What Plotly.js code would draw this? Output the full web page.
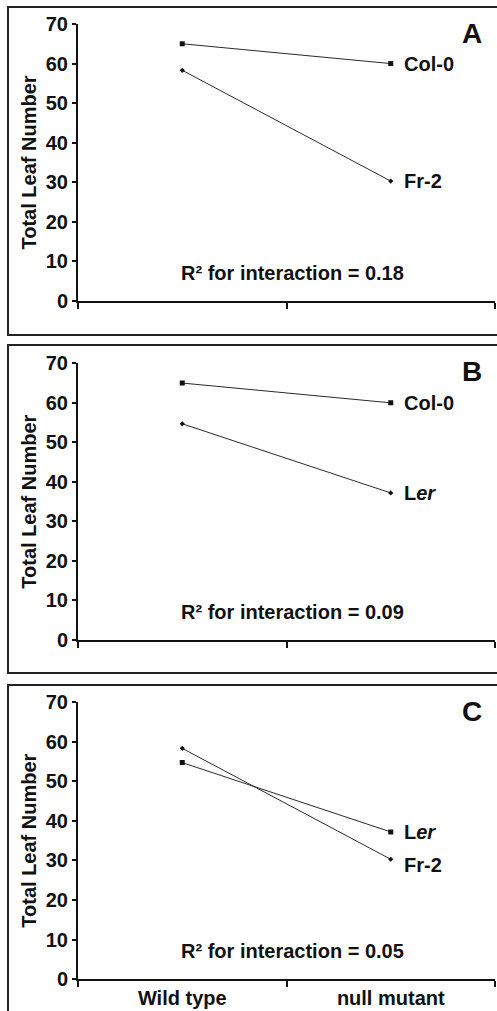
<!DOCTYPE html>
<html>
<head>
<meta charset="utf-8">
<script src="https://cdn.plot.ly/plotly-3.0.1.min.js"></script>
<style>html,body{margin:0;padding:0;background:#fff;}#chart{width:497px;height:1011px;}</style>
</head>
<body>
<div id="chart"></div>
<script>
// ---- data ----
var categories = ['Wild type', 'null mutant'];
var col0 = [65.0, 60.0];
var fr2 = [58.3, 30.3];
var ler = [54.7, 37.2];
var panelLetters = ['A', 'B', 'C'];
var r2Values = ['0.18', '0.09', '0.05'];
var yTicks = [0, 10, 20, 30, 40, 50, 60, 70];

var W = 497, H = 1011;
function fy(py) { return 1 - py / H; }
function fx(px) { return px / W; }

var FONT = 'Liberation Sans, Arial, Helvetica, sans-serif';
var FS = 20;
var lineStyle = {color: '#2a2a2a', width: 1};

// panel pixel geometry
var panels = [
  {y0: 301, y70: 24, top: 7, bottom: 335},
  {y0: 640, y70: 363.3, top: 345, bottom: 673},
  {y0: 979.3, y70: 702, top: 685, bottom: 1030}
];

var panelSeries = [
  [{name: 'Col-0', y: col0, sym: 'square', size: 5}, {name: 'Fr-2', y: fr2, sym: 'diamond', size: 4}],
  [{name: 'Col-0', y: col0, sym: 'square', size: 5}, {name: 'L<i>er</i>', y: ler, sym: 'diamond', size: 4}],
  [{name: 'L<i>er</i>', y: ler, sym: 'square', size: 5}, {name: 'Fr-2', y: fr2, sym: 'diamond', size: 4}]
];
var labelShift = [[0, 0], [0, 0], [0, -6]];

var traces = [];
var layout = {
  width: W, height: H,
  margin: {l: 0, r: 0, t: 0, b: 0},
  paper_bgcolor: '#fff', plot_bgcolor: 'rgba(0,0,0,0)',
  showlegend: false,
  font: {family: FONT, color: '#111', size: FS, weight: 'bold'},
  shapes: [], annotations: []
};

panels.forEach(function (p, i) {
  var n = i + 1;
  var xa = 'x' + (n === 1 ? '' : n), ya = 'y' + (n === 1 ? '' : n);
  var xk = 'xaxis' + (n === 1 ? '' : n), yk = 'yaxis' + (n === 1 ? '' : n);
  panelSeries[i].forEach(function (s) {
    traces.push({
      type: 'scatter', mode: 'lines+markers',
      x: categories, y: s.y, xaxis: xa, yaxis: ya,
      line: lineStyle,
      marker: {symbol: s.sym, size: s.size, color: '#111'},
      hoverinfo: 'skip'
    });
  });
  layout[xk] = {
    domain: [fx(78), fx(495)],
    type: 'category', range: [-0.5, 1.5],
    tickson: 'boundaries', ticks: 'outside', ticklen: 6, tickwidth: 2, tickcolor: '#111',
    showline: true, linecolor: '#111', linewidth: 2, showgrid: false, zeroline: false,
    showticklabels: i === 2,
    tickfont: {family: FONT, size: FS, weight: 'bold', color: '#111'},
    anchor: ya, fixedrange: true
  };
  layout[yk] = {
    domain: [fy(p.y0), fy(p.y70)],
    range: [0, 70], tickvals: yTicks,
    ticks: 'outside', ticklen: 4, tickwidth: 2, tickcolor: '#111',
    showline: true, linecolor: '#111', linewidth: 2, showgrid: false, zeroline: false,
    tickfont: {family: FONT, size: FS, weight: 'bold', color: '#111'},
    title: {text: 'Total Leaf Number', font: {family: FONT, size: FS, weight: 'bold', color: '#111'}, standoff: 4},
    anchor: xa, fixedrange: true
  };
  layout.shapes.push({
    type: 'rect', xref: 'paper', yref: 'paper',
    x0: fx(8), x1: 1.05, y0: fy(p.bottom), y1: fy(p.top),
    line: {color: '#222', width: 2}, fillcolor: 'rgba(0,0,0,0)'
  });
  layout.annotations.push({
    xref: 'paper', yref: 'paper', x: fx(472), y: fy(p.top + 26),
    text: panelLetters[i], showarrow: false, xanchor: 'center', yanchor: 'middle',
    font: {family: FONT, size: 28, weight: 'bold', color: '#111'}
  });
  layout.annotations.push({
    xref: 'paper', yref: ya, x: fx(292), y: 7.2,
    text: 'R\u00b2 for interaction = ' + r2Values[i], showarrow: false,
    xanchor: 'center', yanchor: 'middle',
    font: {family: FONT, size: FS, weight: 'bold', color: '#111'}
  });
  panelSeries[i].forEach(function (s, k) {
    layout.annotations.push({
      xref: xa, yref: ya, x: categories[1], y: s.y[1],
      text: s.name, showarrow: false, xanchor: 'left', yanchor: 'middle',
      xshift: 11, yshift: labelShift[i][k],
      font: {family: FONT, size: FS, weight: 'bold', color: '#111'}
    });
  });
});

Plotly.newPlot('chart', traces, layout, {staticPlot: true, displayModeBar: false});
</script>
</body>
</html>
